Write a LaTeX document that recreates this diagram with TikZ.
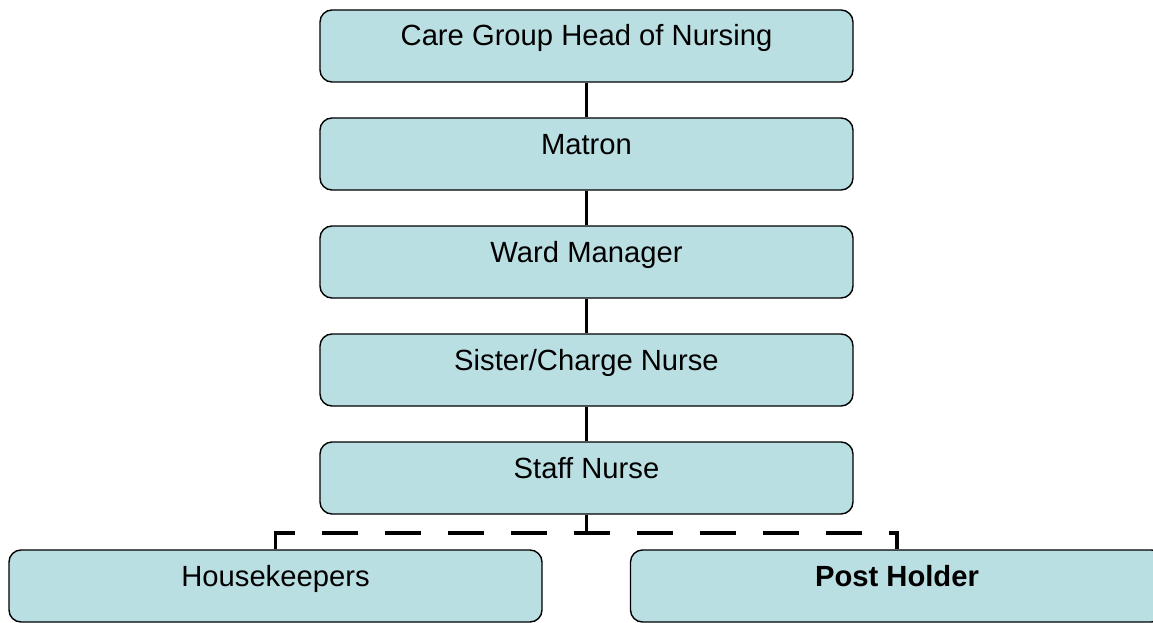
\documentclass[tikz,border=0pt]{standalone}
\usepackage{fontspec}
\setmainfont{Liberation Sans}
\definecolor{boxfill}{HTML}{BADFE2}
\begin{document}
\begin{tikzpicture}[x=1pt,y=-1pt,
  orgbox/.style={draw=black,line width=1.4pt,fill=boxfill,rounded corners=12pt,
    minimum width=533pt,minimum height=72pt,inner sep=0pt,
    text height=20pt,text depth=20pt,font=\fontsize{29.2}{31}\selectfont},
  link/.style={line width=3.2pt},
  dlink/.style={line width=3.2pt,dash pattern=on 36pt off 27pt}]
\useasboundingbox (0,0) rectangle (1153,623);
\clip (0,0) rectangle (1153,623);
\node[orgbox] (n1) at (586.5,46) {Care Group Head of Nursing};
\node[orgbox] (n2) at (586.5,154) {Matron};
\node[orgbox] (n3) at (586.5,262) {Ward Manager};
\node[orgbox] (n4) at (586.5,370) {Sister/Charge Nurse};
\node[orgbox] (n5) at (586.5,478) {Staff Nurse};
\node[orgbox] (hk) at (275.5,586) {Housekeepers};
\node[orgbox,font=\fontsize{29.2}{31}\selectfont\bfseries] (ph) at (897,586) {Post Holder};
\coordinate (j) at (586.5,533);
\draw[link] (n1.south) -- (n2.north);
\draw[link] (n2.south) -- (n3.north);
\draw[link] (n3.south) -- (n4.north);
\draw[link] (n4.south) -- (n5.north);
\draw[link] (n5.south) -- (j);
\draw[dlink] (hk.north) |- (j) -| (ph.north);
\end{tikzpicture}
\end{document}
